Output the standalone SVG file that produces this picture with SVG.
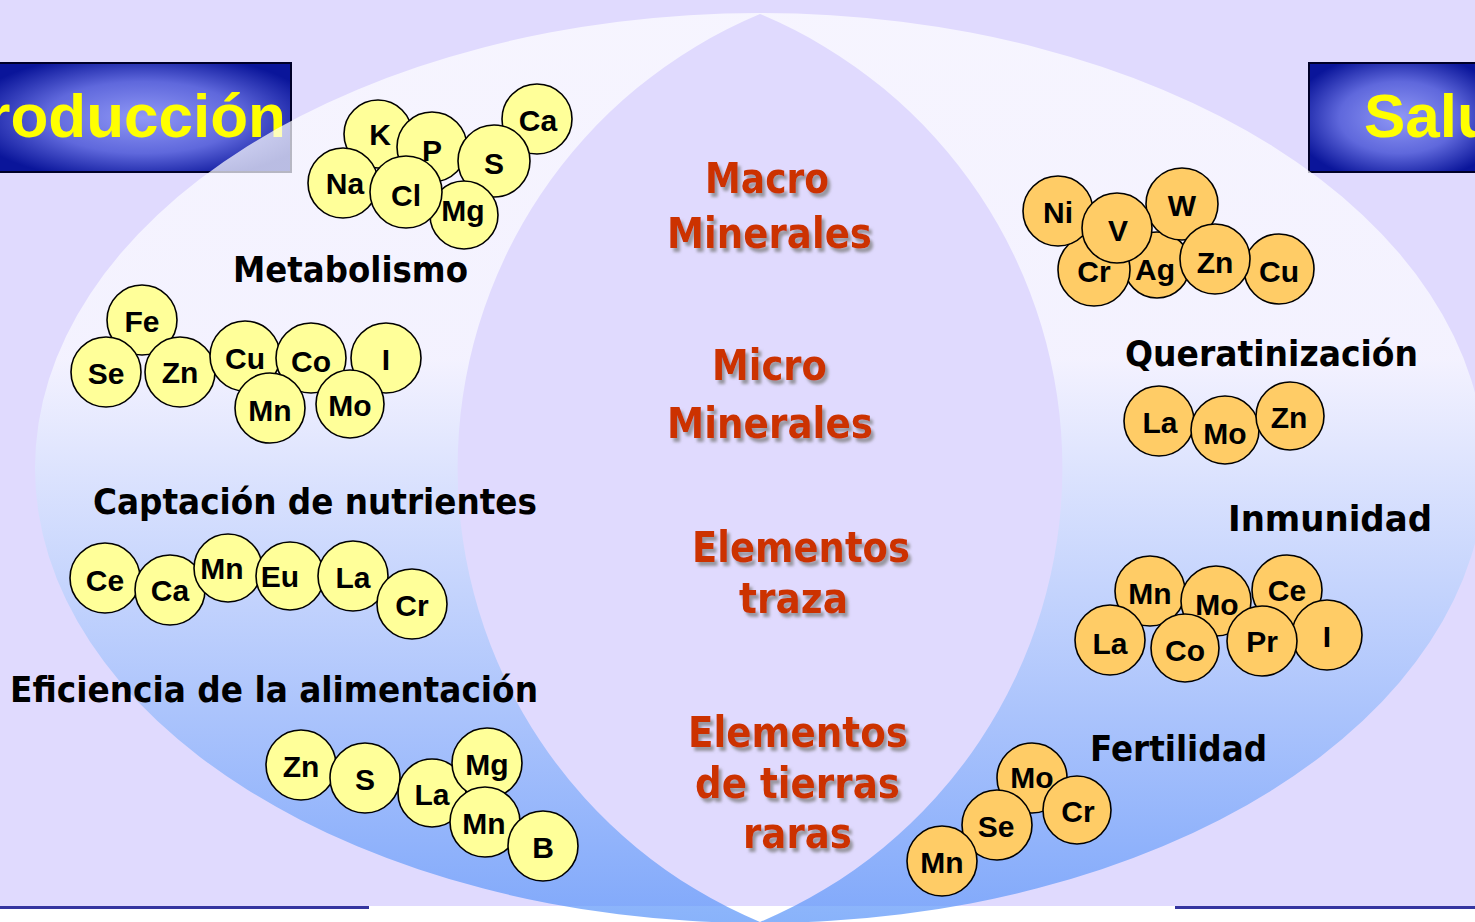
<svg xmlns="http://www.w3.org/2000/svg" width="1475" height="922" viewBox="0 0 1475 922">
<style>
.bg{fill:#E0DAFE}
.yc{fill:#FFFF99;stroke:#000;stroke-width:1.6}
.oc{fill:#FFCC66;stroke:#000;stroke-width:1.6}
.el{font-family:"Liberation Sans",Arial,sans-serif;font-weight:bold;font-size:30px;fill:#000;text-anchor:middle}
.lab{font-family:"DejaVu Sans",Verdana,sans-serif;font-weight:bold;font-size:36px;fill:#000}
.cen{font-family:"DejaVu Sans",Verdana,sans-serif;font-weight:bold;font-size:43px;fill:#CC3300;filter:url(#sh)}
.ban{font-family:"Liberation Sans",Arial,sans-serif;font-weight:bold;font-size:62px;fill:#FFFF00}
.bline{stroke:#3535A0;stroke-width:3}
</style>
<defs>
<linearGradient id="eg" x1="0" y1="0" x2="0" y2="1">
<stop offset="0" stop-color="#FFFFFF"/>
<stop offset="0.38" stop-color="#FBFBFF"/>
<stop offset="1" stop-color="#5B95F9"/>
</linearGradient>
<radialGradient id="bg1" cx="0.5" cy="0.5" r="0.6">
<stop offset="0" stop-color="#9098F6"/>
<stop offset="0.55" stop-color="#5F68DC"/>
<stop offset="1" stop-color="#0A159A"/>
</radialGradient>
<filter id="sh" x="-10%" y="-20%" width="130%" height="150%">
<feDropShadow dx="3" dy="4" stdDeviation="1.5" flood-color="#808080" flood-opacity="0.75"/>
</filter>
</defs>
<rect x="0" y="0" width="1475" height="922" fill="#FFFFFF"/>
<rect class="bg" x="0" y="0" width="1475" height="906"/>
<line class="bline" x1="0" y1="907.5" x2="369" y2="907.5"/>
<line class="bline" x1="1175" y1="907.5" x2="1475" y2="907.5"/>
<g id="banner-left">
<rect x="-5" y="63" width="296" height="109" fill="url(#bg1)" stroke="#000028" stroke-width="2"/>
<text class="ban" x="286" y="137" text-anchor="end">roducción</text>
</g>
<g id="banner-right">
<rect x="1309" y="63" width="180" height="109" fill="url(#bg1)" stroke="#000028" stroke-width="2"/>
<text class="ban" x="1364" y="137">Salu</text>
</g>
<g id="ellipse">
<path fill="url(#eg)" fill-opacity="0.72" fill-rule="evenodd" d="M35,468 A725,455 0 1 0 1485,468 A725,455 0 1 0 35,468 Z M760,14 A492,492 0 0 0 760,922 A492,492 0 0 0 760,14 Z"/>
</g>
<g id="center-labels">
<text class="cen" x="705" y="193" textLength="124" lengthAdjust="spacingAndGlyphs">Macro</text>
<text class="cen" x="667" y="248" textLength="205" lengthAdjust="spacingAndGlyphs">Minerales</text>
<text class="cen" x="712" y="380" textLength="115" lengthAdjust="spacingAndGlyphs">Micro</text>
<text class="cen" x="667" y="438" textLength="206" lengthAdjust="spacingAndGlyphs">Minerales</text>
<text class="cen" x="692" y="562" textLength="218" lengthAdjust="spacingAndGlyphs">Elementos</text>
<text class="cen" x="739" y="613" textLength="109" lengthAdjust="spacingAndGlyphs">traza</text>
<text class="cen" x="688" y="747" textLength="220" lengthAdjust="spacingAndGlyphs">Elementos</text>
<text class="cen" x="695" y="798" textLength="205" lengthAdjust="spacingAndGlyphs">de tierras</text>
<text class="cen" x="743" y="848" textLength="109" lengthAdjust="spacingAndGlyphs">raras</text>
</g>
<g id="side-labels">
<text class="lab" x="233" y="282" textLength="235" lengthAdjust="spacingAndGlyphs">Metabolismo</text>
<text class="lab" x="93" y="514" textLength="444" lengthAdjust="spacingAndGlyphs">Captación de nutrientes</text>
<text class="lab" x="10" y="702" textLength="528" lengthAdjust="spacingAndGlyphs">Eficiencia de la alimentación</text>
<text class="lab" x="1125" y="366" textLength="293" lengthAdjust="spacingAndGlyphs">Queratinización</text>
<text class="lab" x="1228" y="531" textLength="204" lengthAdjust="spacingAndGlyphs">Inmunidad</text>
<text class="lab" x="1090" y="761" textLength="177" lengthAdjust="spacingAndGlyphs">Fertilidad</text>
</g>
<g id="group-metabolismo">
<circle class="yc" cx="537" cy="119" r="35"/><text class="el" x="538" y="131">Ca</text>
<circle class="yc" cx="378" cy="134" r="34"/><text class="el" x="380" y="145">K</text>
<circle class="yc" cx="343" cy="183" r="35"/><text class="el" x="345" y="194">Na</text>
<circle class="yc" cx="432" cy="147" r="35"/><text class="el" x="432" y="161">P</text>
<circle class="yc" cx="494" cy="161" r="36"/><text class="el" x="494" y="174">S</text>
<circle class="yc" cx="464" cy="215" r="34"/><text class="el" x="463" y="221">Mg</text>
<circle class="yc" cx="406" cy="192" r="36"/><text class="el" x="406" y="206">Cl</text>
</g>
<g id="group-2">
<circle class="yc" cx="142" cy="320" r="35"/><text class="el" x="142" y="332">Fe</text>
<circle class="yc" cx="106" cy="372" r="35"/><text class="el" x="106" y="384">Se</text>
<circle class="yc" cx="180" cy="372" r="35"/><text class="el" x="180" y="383">Zn</text>
<circle class="yc" cx="245" cy="356" r="35"/><text class="el" x="245" y="369">Cu</text>
<circle class="yc" cx="311" cy="358" r="35"/><text class="el" x="311" y="372">Co</text>
<circle class="yc" cx="386" cy="358" r="35"/><text class="el" x="386" y="370">I</text>
<circle class="yc" cx="270" cy="408" r="35"/><text class="el" x="270" y="421">Mn</text>
<circle class="yc" cx="350" cy="404" r="34"/><text class="el" x="350" y="416">Mo</text>
</g>
<g id="group-captacion">
<circle class="yc" cx="105" cy="578" r="35"/><text class="el" x="105" y="591">Ce</text>
<circle class="yc" cx="170" cy="590" r="35"/><text class="el" x="170" y="601">Ca</text>
<circle class="yc" cx="228" cy="568" r="34"/><text class="el" x="222" y="579">Mn</text>
<circle class="yc" cx="290" cy="576" r="34"/><text class="el" x="280" y="587">Eu</text>
<circle class="yc" cx="353" cy="576" r="35"/><text class="el" x="353" y="588">La</text>
<circle class="yc" cx="412" cy="604" r="35"/><text class="el" x="412" y="616">Cr</text>
</g>
<g id="group-eficiencia">
<circle class="yc" cx="301" cy="765" r="35"/><text class="el" x="301" y="777">Zn</text>
<circle class="yc" cx="365" cy="778" r="35"/><text class="el" x="365" y="790">S</text>
<circle class="yc" cx="432" cy="793" r="34"/><text class="el" x="432" y="805">La</text>
<circle class="yc" cx="487" cy="763" r="35"/><text class="el" x="487" y="775">Mg</text>
<circle class="yc" cx="485" cy="822" r="35"/><text class="el" x="484" y="834">Mn</text>
<circle class="yc" cx="543" cy="846" r="35"/><text class="el" x="543" y="858">B</text>
</g>
<g id="group-salud-top">
<circle class="oc" cx="1157" cy="265" r="33"/><text class="el" x="1155" y="280">Ag</text>
<circle class="oc" cx="1279" cy="269" r="35"/><text class="el" x="1279" y="282">Cu</text>
<circle class="oc" cx="1182" cy="204" r="36"/><text class="el" x="1182" y="216">W</text>
<circle class="oc" cx="1215" cy="259" r="35"/><text class="el" x="1215" y="273">Zn</text>
<circle class="oc" cx="1094" cy="270" r="36"/><text class="el" x="1094" y="282">Cr</text>
<circle class="oc" cx="1058" cy="211" r="35"/><text class="el" x="1058" y="223">Ni</text>
<circle class="oc" cx="1117" cy="228" r="35"/><text class="el" x="1118" y="241">V</text>
</g>
<g id="group-queratinizacion">
<circle class="oc" cx="1159" cy="421" r="35"/><text class="el" x="1160" y="433">La</text>
<circle class="oc" cx="1225" cy="430" r="34"/><text class="el" x="1225" y="444">Mo</text>
<circle class="oc" cx="1290" cy="416" r="34"/><text class="el" x="1289" y="428">Zn</text>
</g>
<g id="group-inmunidad">
<circle class="oc" cx="1150" cy="591" r="35"/><text class="el" x="1150" y="604">Mn</text>
<circle class="oc" cx="1216" cy="601" r="35"/><text class="el" x="1217" y="615">Mo</text>
<circle class="oc" cx="1287" cy="590" r="35"/><text class="el" x="1287" y="601">Ce</text>
<circle class="oc" cx="1327" cy="635" r="35"/><text class="el" x="1327" y="647">I</text>
<circle class="oc" cx="1110" cy="640" r="35"/><text class="el" x="1110" y="654">La</text>
<circle class="oc" cx="1185" cy="648" r="34"/><text class="el" x="1185" y="661">Co</text>
<circle class="oc" cx="1262" cy="641" r="35"/><text class="el" x="1262" y="652">Pr</text>
</g>
<g id="group-fertilidad">
<circle class="oc" cx="1032" cy="778" r="35"/><text class="el" x="1032" y="788">Mo</text>
<circle class="oc" cx="1077" cy="810" r="34"/><text class="el" x="1078" y="822">Cr</text>
<circle class="oc" cx="997" cy="825" r="35"/><text class="el" x="996" y="837">Se</text>
<circle class="oc" cx="942" cy="861" r="35"/><text class="el" x="942" y="873">Mn</text>
</g>
</svg>
